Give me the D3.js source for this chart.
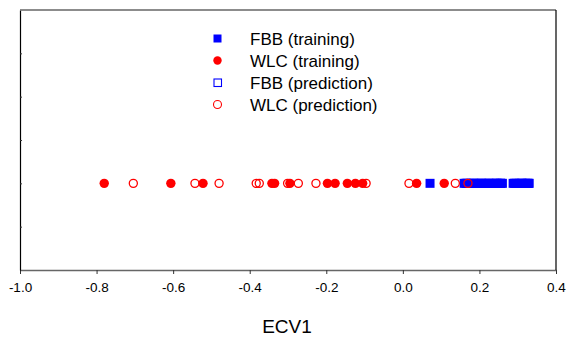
<!DOCTYPE html>
<html><head><meta charset="utf-8">
<script src="https://cdn.jsdelivr.net/npm/d3@7"></script>
<style>body{margin:0;background:#fff}svg{display:block}text{font-family:"Liberation Sans",Arial,sans-serif}</style>
</head><body>
<script>
const xTicks = [-1.0, -0.8, -0.6, -0.4, -0.2, 0.0, 0.2, 0.4];
const yTicks = [1, 2, 3, 4, 5];
const rowLevel = 2;
const seriesNames = ["FBB (training)", "WLC (training)", "FBB (prediction)", "WLC (prediction)"];
const fbbTraining = [0.071, 0.160, 0.168, 0.176, 0.184, 0.192, 0.200, 0.208, 0.216, 0.224, 0.232, 0.240, 0.248, 0.256, 0.260, 0.288, 0.296, 0.304, 0.312, 0.320, 0.328, 0.330];
const wlcTraining = [-0.780, -0.606, -0.522, -0.342, -0.335, -0.295, -0.197, -0.177, -0.145, -0.124, -0.105, 0.036, 0.108];
const fbbPrediction = [0.165, 0.185, 0.205, 0.225, 0.245, 0.255, 0.292, 0.310, 0.325];
const wlcPrediction = [-0.704, -0.543, -0.480, -0.383, -0.375, -0.301, -0.273, -0.227, -0.096, 0.016, 0.137, 0.170];

const W = 569, H = 338;
const L = 20, R = 556, T = 10, B = 270;
const x = d3.scaleLinear().domain([-1.0, 0.4]).range([L, R]);
const y = d3.scaleLinear().domain([0, 6]).range([B, T]);
const blue = "#0000ff", red = "#ff0000";

const svg = d3.select("body").append("svg").attr("width", W).attr("height", H);

const loc = d3.formatLocale({decimal: ".", thousands: ",", grouping: [3], currency: ["", ""], minus: "-"});
const fmt = loc.format(".1f");

// bottom axis
const gx = svg.append("g").attr("transform", `translate(0,${B})`)
  .call(d3.axisBottom(x).tickValues(xTicks).tickFormat(fmt).tickSize(4).tickPadding(8).tickSizeOuter(0));
gx.select(".domain").attr("stroke", "#666").attr("stroke-width", 1.5);
gx.selectAll(".tick line").attr("stroke", "#333");
gx.selectAll(".tick text").attr("font-size", 13.5).attr("fill", "#000").style("font-family", '"Liberation Sans",Arial,sans-serif');

// left axis (inward ticks, no labels)
const gy = svg.append("g").attr("transform", `translate(${L},0)`)
  .call(d3.axisRight(y).tickValues(yTicks).tickFormat("").tickSize(2).tickSizeOuter(0));
gy.select(".domain").attr("stroke", "#000").attr("stroke-width", 1.2);
gy.selectAll(".tick line").attr("stroke", "#333");

// top and right frame
svg.append("line").attr("x1", L).attr("x2", R).attr("y1", T).attr("y2", T).attr("stroke", "#666").attr("stroke-width", 1.5);
svg.append("line").attr("x1", R).attr("x2", R).attr("y1", T).attr("y2", B).attr("stroke", "#000").attr("stroke-width", 1.2);

const sq = 9, rad = 4.7;
const yy = y(rowLevel);
const plot = svg.append("g");
plot.selectAll(".ft").data(fbbTraining).enter().append("rect")
  .attr("x", d => x(d) - sq / 2).attr("y", yy - sq / 2).attr("width", sq).attr("height", sq).attr("fill", blue);
plot.selectAll(".wt").data(wlcTraining).enter().append("circle")
  .attr("cx", d => x(d)).attr("cy", yy).attr("r", rad).attr("fill", red);
plot.selectAll(".fp").data(fbbPrediction).enter().append("rect")
  .attr("x", d => x(d) - sq / 2 + 0.6).attr("y", yy - sq / 2 + 0.6).attr("width", sq - 1.2).attr("height", sq - 1.2)
  .attr("fill", "none").attr("stroke", blue).attr("stroke-width", 1.3);
plot.selectAll(".wp").data(wlcPrediction).enter().append("circle")
  .attr("cx", d => x(d)).attr("cy", yy).attr("r", rad - 0.65).attr("fill", "none").attr("stroke", red).attr("stroke-width", 1.3);

// legend
const lg = svg.append("g");
const ly0 = 38.5, ldy = 22;
seriesNames.forEach((name, i) => {
  const cy = ly0 + i * ldy, cx = 217.5;
  if (i === 0) lg.append("rect").attr("x", cx - 4).attr("y", cy - 4).attr("width", 8).attr("height", 8).attr("fill", blue);
  if (i === 1) lg.append("circle").attr("cx", cx).attr("cy", cy).attr("r", 4.2).attr("fill", red);
  if (i === 2) lg.append("rect").attr("x", cx - 3.5).attr("y", cy - 3.5).attr("width", 7.5).attr("height", 7.5).attr("fill", "none").attr("stroke", blue).attr("stroke-width", 1.1);
  if (i === 3) lg.append("circle").attr("cx", cx).attr("cy", cy).attr("r", 4).attr("fill", "none").attr("stroke", red).attr("stroke-width", 1.1);
  lg.append("text").attr("x", 250).attr("y", cy + 6).attr("font-size", 17).attr("fill", "#000").text(name);
});

// x title
svg.append("text").attr("x", (L + R) / 2 - 1).attr("y", 333).attr("text-anchor", "middle").attr("font-size", 19).attr("fill", "#000").text("ECV1");
</script>
</body></html>
